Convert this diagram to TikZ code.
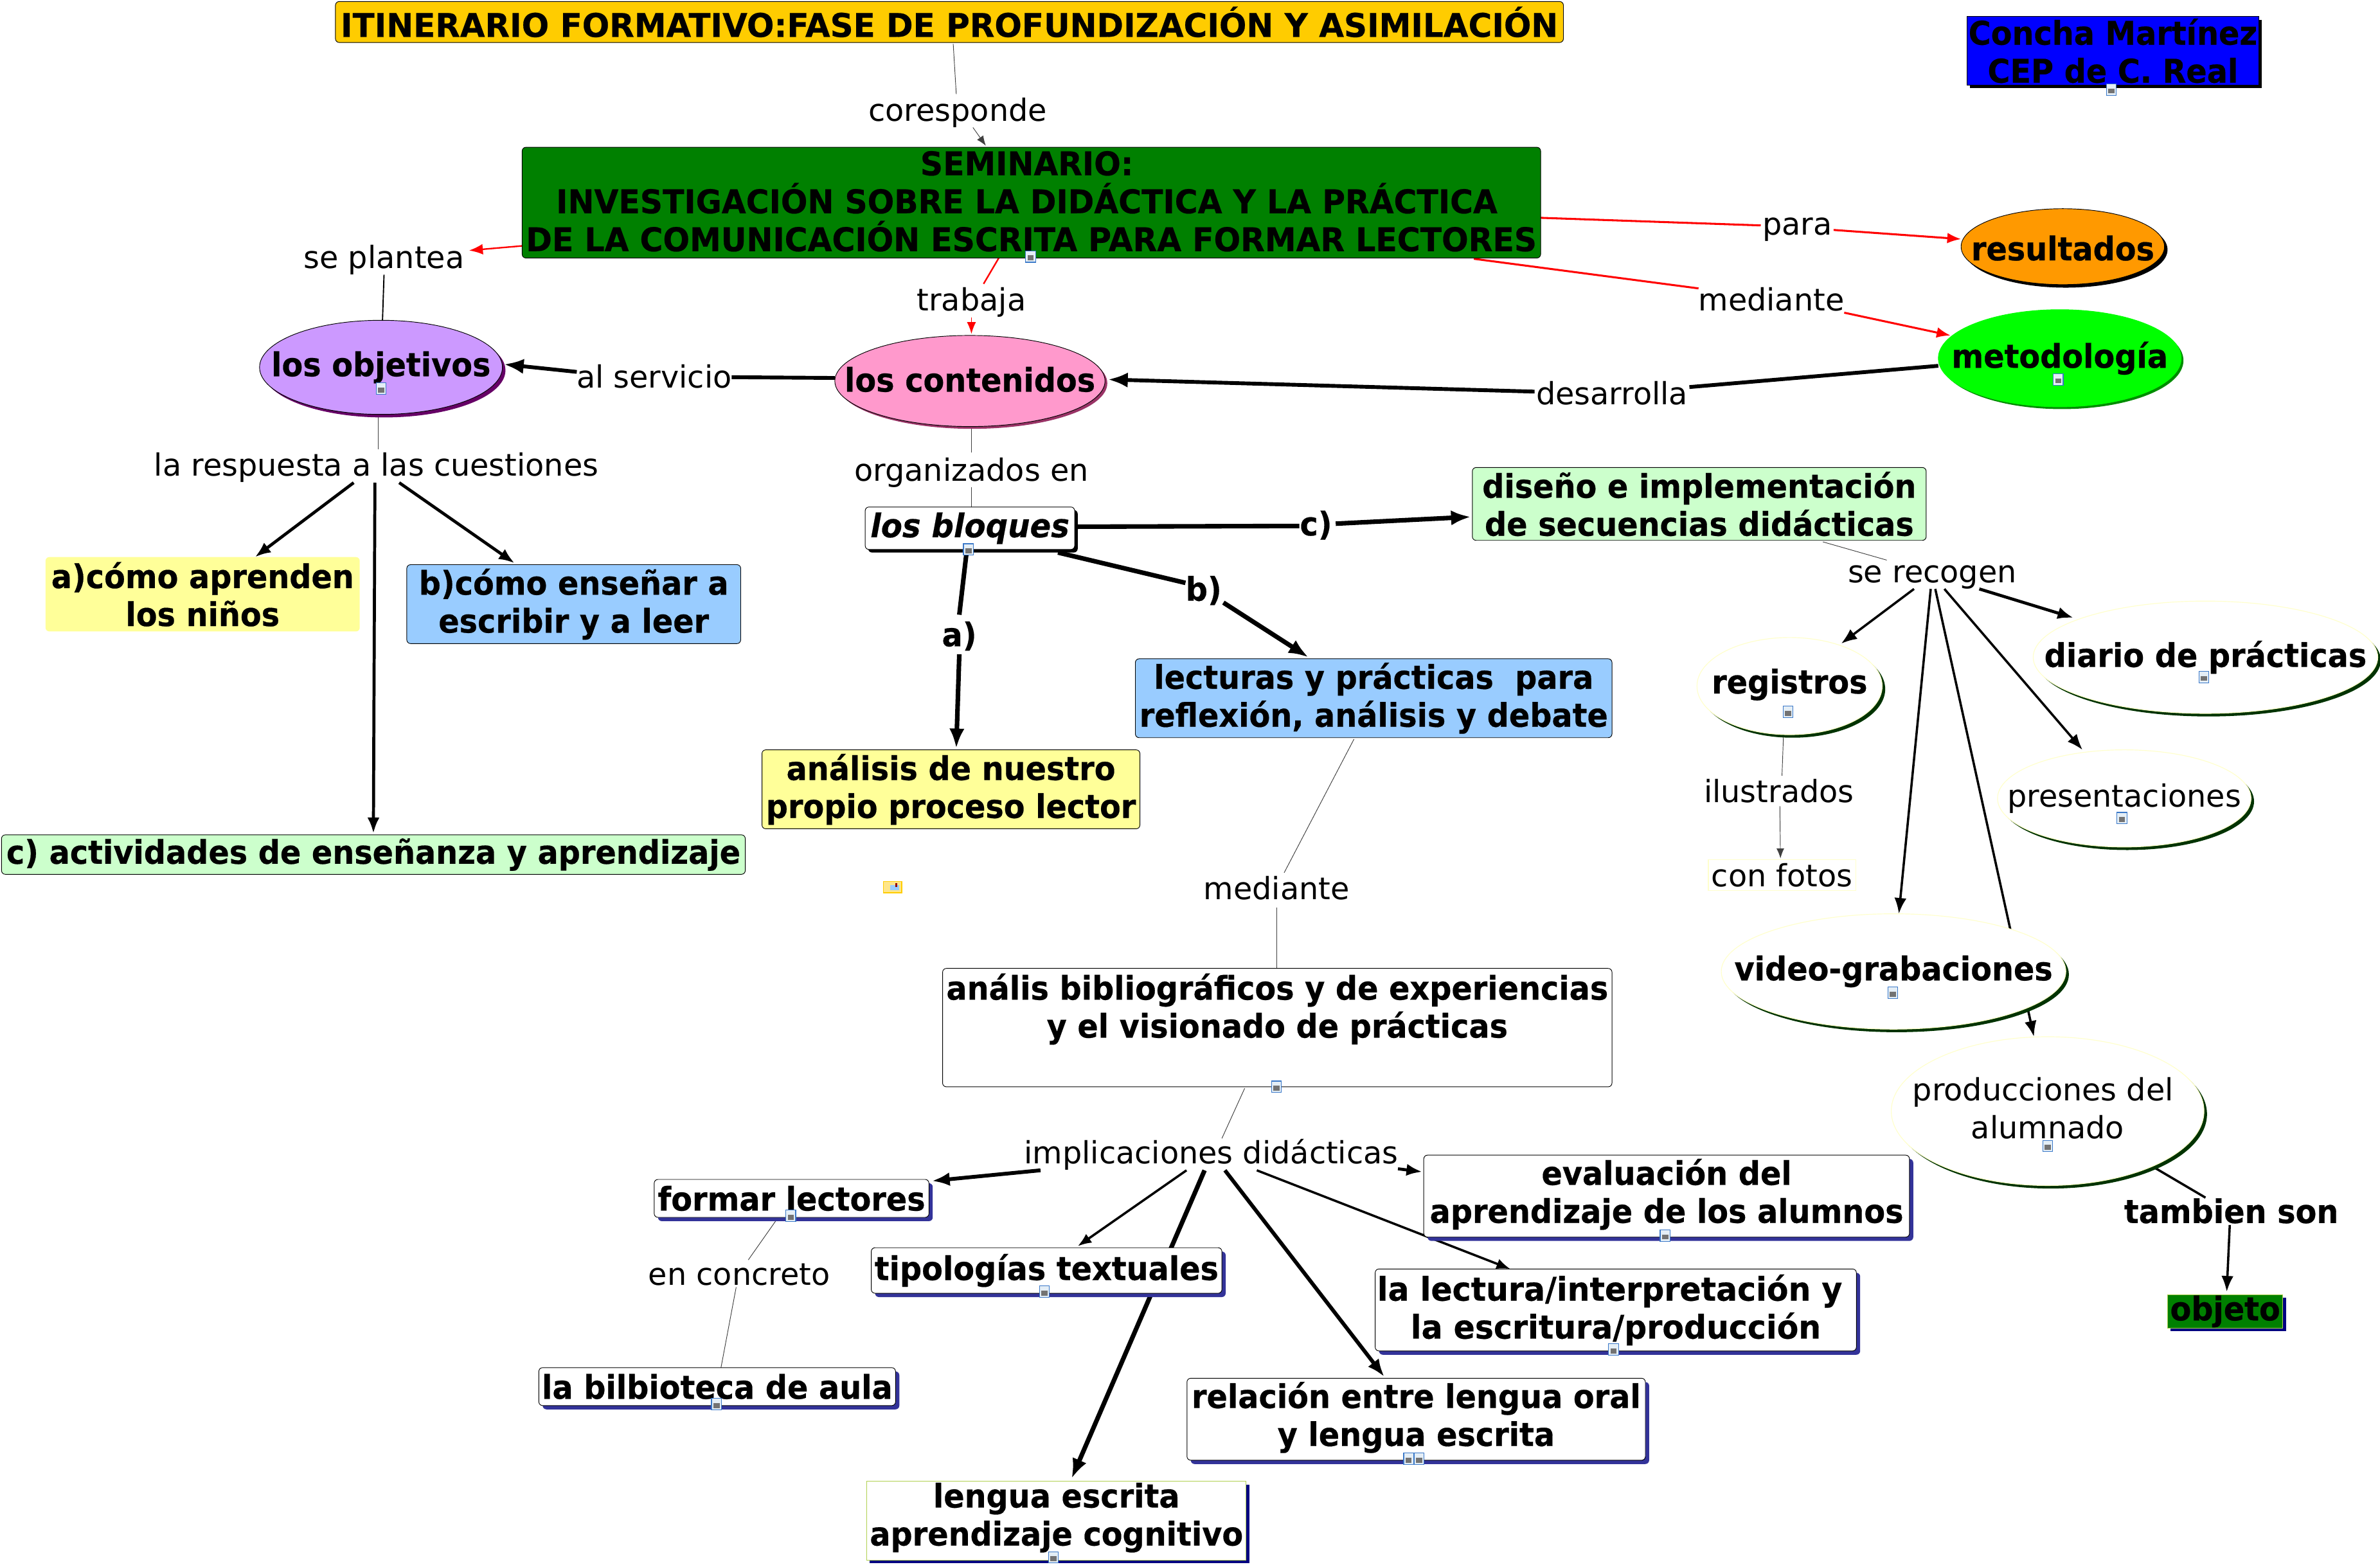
\documentclass[tikz,border=0pt]{standalone}
\usepackage{fontspec}
\setmainfont{DejaVu Sans}[BoldFeatures={FakeStretch=0.94,FakeBold=0.4},BoldItalicFeatures={FakeStretch=0.95,FakeBold=0.4}]
\newfontfamily\capsA{DejaVu Sans}[BoldFeatures={FakeStretch=0.985,FakeBold=0.4}]
\newfontfamily\capsB{DejaVu Sans}[BoldFeatures={FakeStretch=0.964,FakeBold=0.4}]
\usetikzlibrary{shapes.geometric,arrows.meta,shadows}
\definecolor{cTitle}{HTML}{FFCC00}
\definecolor{cSem}{HTML}{008000}
\definecolor{cBlue}{HTML}{0000FF}
\definecolor{cOrange}{HTML}{FF9900}
\definecolor{cLime}{HTML}{00FF00}
\definecolor{cLila}{HTML}{CC99FF}
\definecolor{cLilaD}{HTML}{660066}
\definecolor{cPink}{HTML}{FF99CC}
\definecolor{cPinkD}{HTML}{993366}
\definecolor{cMint}{HTML}{CCFFCC}
\definecolor{cYel}{HTML}{FFFF99}
\definecolor{cSky}{HTML}{99CCFF}
\definecolor{cPale}{HTML}{FFFFCC}
\definecolor{cDkGreen}{HTML}{003300}
\definecolor{cNavy}{HTML}{333399}
\definecolor{cDeep}{HTML}{000080}
\definecolor{cIcon}{HTML}{3A78C8}
\definecolor{cIconFill}{HTML}{E4EEF6}
\definecolor{cOlive}{HTML}{B0D050}
\definecolor{cNote}{HTML}{FFE68A}
\tikzset{
  bold/.style={font=\fontsize{21.5}{25}\selectfont\bfseries},
  box/.style={rectangle,rounded corners=2.5pt,draw=black,line width=.4pt,inner sep=0pt,align=center,bold},
  shad/.style={copy shadow={shadow xshift=#1,shadow yshift=-#1,fill=black,draw=none}},
  navy/.style={copy shadow={shadow xshift=2.5pt,shadow yshift=-2.5pt,fill=cNavy,draw=none}},
  oval/.style={ellipse,draw=black,line width=.4pt,inner sep=0pt},
  whiteoval/.style={ellipse,fill=white,draw=cPale,line width=.5pt,inner sep=0pt,
    copy shadow={shadow xshift=2pt,shadow yshift=-2pt,fill=cDkGreen,draw=none}},
  phrasefont/.style={font=\fontsize{20.2}{25}\selectfont},
  phrase/.style={inner sep=0pt,align=center,phrasefont,text height=15.5pt,text depth=0pt},
  bphrase/.style={inner sep=0pt,align=center,bold,text height=15.5pt,text depth=0pt},
  thinl/.style={line width=.4pt,black!75},
  tip/.style={-{Latex[length=#1*1.3pt,width=#1pt]}},
  iconbox/.style={rectangle,inner sep=0pt,minimum width=6.5pt,minimum height=7.5pt,draw=cIcon,fill=cIconFill,line width=.5pt,
    path picture={\fill[black!55] ([shift={(1.2pt,1.2pt)}]path picture bounding box.south west) rectangle ([shift={(-1.2pt,-3pt)}]path picture bounding box.north east);}},
  notebox/.style={rectangle,inner sep=0pt,minimum width=12pt,minimum height=7.5pt,draw=cTitle,fill=cNote,line width=.8pt,
    path picture={\fill[cSky] ([shift={(4.5pt,1.8pt)}]path picture bounding box.south west) rectangle ([shift={(-1.5pt,-2.2pt)}]path picture bounding box.north east);
      \fill[red!60!black] ([shift={(-4pt,-1pt)}]path picture bounding box.north east) rectangle ([shift={(-2.8pt,-3.4pt)}]path picture bounding box.north east);}}
}
\begin{document}
\begin{tikzpicture}[x=1pt,y=-1pt]
\useasboundingbox (0,0) rectangle (1568,1032);
% --- phrases
\node[phrase] (pcor) at (631,72) {coresponde};
\node[phrase] (ppl) at (253,169) {se plantea};
\node[phrase] (ptr) at (640,197) {trabaja};
\node[phrase] (pse) at (431,248) {al servicio};
\node[phrase] (pde) at (1062,259) {desarrolla};
\node[phrase] (ppa) at (1184,147) {para};
\node[phrase] (pme) at (1167,197) {mediante};
\node[phrase] (pres) at (248,306) {la respuesta a las cuestiones};
\node[phrase] (por) at (640,309) {organizados en};
\node[bphrase] (pcc) at (867,345) {c)};
\node[bphrase] (pbb) at (793,388) {b)};
\node[bphrase] (paa) at (632,418) {a)};
\node[phrase] (prc) at (1273,376) {se recogen};
\node[phrase] (pil) at (1172,521) {ilustrados};
\node[bphrase] (ptb) at (1470,798) {tambien son};
\node[phrase] (pmd) at (841,585) {mediante};
\node[phrase] (pim) at (798,759) {implicaciones didácticas};
\node[phrase] (pec) at (487,839) {en concreto};
% --- positions of the concepts, so that connectors can be laid under them
\path
 (625.5,14.5) coordinate (tit0)
 (679.5,133.5) coordinate (sem0)
 (1359,162.5) coordinate (res0)
 (1357,236) coordinate (met0)
 (251,242) coordinate (obj0)
 (639,251) coordinate (con0)
 (639,348) coordinate (blo0)
 (1119.5,332) coordinate (dis0)
 (133.5,391.5) coordinate (ca0)
 (378,398) coordinate (cb0)
 (246,563) coordinate (cc0)
 (626.5,520) coordinate (ana0)
 (905,460) coordinate (lec0)
 (841.5,677) coordinate (bib0)
 (1179,452) coordinate (reg0)
 (1453,433) coordinate (dia0)
 (1399.5,526) coordinate (pre0)
 (1247.5,640) coordinate (vid0)
 (1349,732) coordinate (pro0)
 (1174,576.5) coordinate (fot0)
 (1466,864) coordinate (obt0)
 (521.5,789.5) coordinate (fl0)
 (689.5,837) coordinate (tip0)
 (472.5,913.5) coordinate (bil0)
 (696,1002) coordinate (len0)
 (933,935) coordinate (rel0)
 (1064.5,863) coordinate (lei0)
 (1098,788) coordinate (eva0);
% --- connectors
\draw[thinl] ([shift={(2.5,14.5)}]tit0) -- ([shift={(-1,-10)}]pcor.center);
\draw[thinl,tip=5] ([shift={(10,12)}]pcor.center) -- ([shift={(-30,-37.5)}]sem0);
\draw[red,line width=1pt,tip=7] ([shift={(-335.5,28.5)}]sem0) -- ([shift={(56,-4)}]ppl.center);
\draw[black,line width=.8pt] ([shift={(0,12)}]ppl.center) -- ([shift={(1,-31)}]obj0);
\draw[red,line width=1pt] ([shift={(-21.5,36.5)}]sem0) -- ([shift={(8,-10)}]ptr.center);
\draw[red,line width=.8pt,tip=6] ([shift={(0,12)}]ptr.center) -- ([shift={(1,-31)}]con0);
\draw[line width=2.5pt] ([shift={(-89,-2)}]con0) -- ([shift={(51,.5)}]pse.center);
\draw[line width=2.5pt,tip=10] ([shift={(-51,-3)}]pse.center) -- ([shift={(81,-2)}]obj0);
\draw[line width=2.5pt] ([shift={(-80,5)}]met0) -- ([shift={(51,-4)}]pde.center);
\draw[line width=2.5pt,tip=10] ([shift={(-51,-1)}]pde.center) -- ([shift={(91,-1)}]con0);
\draw[red,line width=1.3pt] ([shift={(335.5,10)}]sem0) -- ([shift={(-24,1.5)}]ppa.center);
\draw[red,line width=1.3pt,tip=7] ([shift={(24,4.5)}]ppa.center) -- ([shift={(-67,-5)}]res0);
\draw[red,line width=1.3pt] ([shift={(291.5,37)}]sem0) -- ([shift={(-48,-7)}]pme.center);
\draw[red,line width=1.3pt,tip=7] ([shift={(48,9)}]pme.center) -- ([shift={(-72,-15)}]met0);
\draw[thinl] ([shift={(-2,32)}]obj0) -- ([shift={(1,-10)}]pres.center);
\draw[line width=2pt,tip=8] ([shift={(-15,12)}]pres.center) -- ([shift={(34.5,-24.5)}]ca0);
\draw[line width=2pt,tip=8] ([shift={(-1,12)}]pres.center) -- ([shift={(0,-14)}]cc0);
\draw[line width=2pt,tip=8] ([shift={(15,12)}]pres.center) -- ([shift={(-39,-27)}]cb0);
\draw[thinl] ([shift={(1,30)}]con0) -- ([shift={(0,-11)}]por.center);
\draw[thinl] ([shift={(0,12)}]por.center) -- ([shift={(1,-14)}]blo0);
\draw[line width=3pt] ([shift={(69,-1)}]blo0) -- ([shift={(-11,1.5)}]pcc.center);
\draw[line width=3pt,tip=10] ([shift={(13,0)}]pcc.center) -- ([shift={(-150.5,8.5)}]dis0);
\draw[line width=3pt] ([shift={(58,16)}]blo0) -- ([shift={(-12,-4)}]pbb.center);
\draw[line width=3pt,tip=10] ([shift={(13,9)}]pbb.center) -- ([shift={(-43,-27)}]lec0);
\draw[line width=3pt] ([shift={(-2,14)}]blo0) -- ([shift={(0,-13)}]paa.center);
\draw[line width=3pt,tip=10] ([shift={(0,13)}]paa.center) -- ([shift={(3.5,-27)}]ana0);
\draw[thinl] ([shift={(-13,27)}]lec0) -- ([shift={(5,-10)}]pmd.center);
\draw[thinl] ([shift={(0,13)}]pmd.center) -- ([shift={(-.5,-39)}]bib0);
\draw[thinl] ([shift={(-21.5,40)}]bib0) -- ([shift={(7,-9)}]pim.center);
\draw[line width=2.5pt,tip=9] ([shift={(-112.5,12)}]pim.center) -- ([shift={(92.5,-11.5)}]fl0);
\draw[line width=1.5pt,tip=7] ([shift={(-16.3,12)}]pim.center) -- ([shift={(20.5,-16)}]tip0);
\draw[line width=3pt,tip=10] ([shift={(-4.4,12)}]pim.center) -- ([shift={(10,-28)}]len0);
\draw[line width=2.5pt,tip=9] ([shift={(9,12)}]pim.center) -- ([shift={(-21,-28)}]rel0);
\draw[line width=1.5pt,tip=7] ([shift={(30,12)}]pim.center) -- ([shift={(-69.5,-27)}]lei0);
\draw[line width=2pt,tip=8] ([shift={(123,11)}]pim.center) -- ([shift={(-161,-16)}]eva0);
\draw[thinl] ([shift={(-9.5,13.5)}]fl0) -- ([shift={(6,-9)}]pec.center);
\draw[thinl] ([shift={(-2,9)}]pec.center) -- ([shift={(2.5,-12.5)}]bil0);
\draw[thinl] ([shift={(81.5,25)}]dis0) -- ([shift={(-30,-7)}]prc.center);
\draw[line width=1.5pt,tip=8] ([shift={(-12,12)}]prc.center) -- ([shift={(34,-28)}]reg0);
\draw[line width=1.5pt,tip=8] ([shift={(-1,12)}]prc.center) -- ([shift={(3.5,-38)}]vid0);
\draw[line width=1.5pt,tip=8] ([shift={(2,12)}]prc.center) -- ([shift={(-9,-49)}]pro0);
\draw[line width=1.5pt,tip=8] ([shift={(8,12)}]prc.center) -- ([shift={(-27.5,-32)}]pre0);
\draw[line width=2pt,tip=8] ([shift={(31,12)}]prc.center) -- ([shift={(-87,-26)}]dia0);
\draw[thinl] ([shift={(-4,32)}]reg0) -- ([shift={(2,-10)}]pil.center);
\draw[thinl,tip=5] ([shift={(.6,10)}]pil.center) -- ([shift={(-1,-11)}]fot0);
\draw[line width=1.5pt] ([shift={(70,37)}]pro0) -- ([shift={(-17,-9)}]ptb.center);
\draw[line width=1.5pt,tip=8] ([shift={(-1,9)}]ptb.center) -- ([shift={(1,-13)}]obt0);
% --- concept nodes
\node[box,fill=cTitle,minimum width=809pt,minimum height=27pt,font=\fontsize{21.5}{25}\selectfont\capsA\bfseries] (tit) at (tit0) {ITINERARIO FORMATIVO:FASE DE PROFUNDIZACIÓN Y ASIMILACIÓN};
\node[rectangle,fill=cBlue,draw=black,line width=.4pt,inner sep=0pt,align=center,bold,shad=2pt,minimum width=192pt,minimum height=45pt] (aut) at (1392,33.5) {Concha Martínez\\CEP de C. Real};
\node[box,fill=cSem,minimum width=671pt,minimum height=73pt,font=\fontsize{21.5}{25}\selectfont\capsB\bfseries] (sem) at (sem0) {\hspace{-6pt}SEMINARIO:\\\hspace{-6pt}INVESTIGACIÓN SOBRE LA DIDÁCTICA Y LA PRÁCTICA\\DE LA COMUNICACIÓN ESCRITA PARA FORMAR LECTORES\\[-23pt]\mbox{}};
\node[oval,fill=cOrange,shad=2pt,minimum width=134pt,minimum height=50pt,label={[bold,name=rest,yshift=-1pt]center:resultados}] (res) at (res0) {};
\node[oval,fill=cLime,draw=cLime,copy shadow={shadow xshift=1.5pt,shadow yshift=-1.5pt,fill=green!55!black,draw=none},minimum width=160pt,minimum height=64pt,label={[bold,name=mett]center:metodología}] (met) at (met0) {};
\node[oval,fill=cLila,copy shadow={shadow xshift=2pt,shadow yshift=-2pt,fill=cLilaD,draw=none},minimum width=160pt,minimum height=62pt,label={[bold,name=objt]center:los objetivos}] (obj) at (obj0) {};
\node[oval,fill=cPink,copy shadow={shadow xshift=1.5pt,shadow yshift=-1.5pt,fill=cPinkD,draw=none},minimum width=178pt,minimum height=60pt,label={[bold,name=cont,yshift=1pt]center:los contenidos}] (con) at (con0) {};
\node[box,fill=white,shad=2pt,minimum width=138pt,minimum height=28pt,font=\fontsize{21.5}{25}\selectfont\bfseries\itshape] (blo) at (blo0) {los bloques};
\node[box,fill=cMint,minimum width=299pt,minimum height=48pt] (dis) at (dis0) {diseño e implementación\\de secuencias didácticas};
\node[box,fill=cYel,draw=none,minimum width=207pt,minimum height=49pt] (ca) at (ca0) {a)cómo aprenden\\los niños};
\node[box,fill=cSky,minimum width=220pt,minimum height=52pt] (cb) at (cb0) {b)cómo enseñar a\\escribir y a leer};
\node[box,fill=cMint,minimum width=490pt,minimum height=26pt] (cc) at (cc0) {c) actividades de enseñanza y aprendizaje};
\node[box,fill=cYel,minimum width=249pt,minimum height=52pt] (ana) at (ana0) {análisis de nuestro\\propio proceso lector};
\node[box,fill=cSky,minimum width=314pt,minimum height=52pt] (lec) at (lec0) {lecturas y prácticas\ \ para\\reflexión, análisis y debate};
\node[box,fill=white,minimum width=441pt,minimum height=78pt] (bib) at (bib0) {anális bibliográficos y de experiencias\\y el visionado de prácticas\\[4pt] \mbox{}};
\node[whiteoval,minimum width=122pt,minimum height=64pt,label={[bold,name=regt,yshift=1pt]center:registros}] (reg) at (reg0) {};
\node[whiteoval,minimum width=227pt,minimum height=74pt,label={[bold,name=diat]center:diario de prácticas}] (dia) at (dia0) {};
\node[whiteoval,minimum width=167pt,minimum height=64pt,label={[phrasefont,name=pret]center:presentaciones}] (pre) at (pre0) {};
\node[whiteoval,minimum width=227pt,minimum height=76pt,label={[bold,name=vidt]center:video-grabaciones}] (vid) at (vid0) {};
\node[whiteoval,minimum width=206pt,minimum height=98pt,label={[phrasefont,align=center,name=prot,yshift=2pt]center:\hspace{-6pt}producciones del\\alumnado}] (pro) at (pro0) {};
\node[rectangle,draw=cPale,line width=.5pt,fill=white,phrase,minimum width=97pt,minimum height=20pt] (fot) at (fot0) {con fotos};
\node[rectangle,fill=cSem,draw=cOlive,line width=.4pt,inner sep=0pt,align=center,bold,copy shadow={shadow xshift=2pt,shadow yshift=-2pt,fill=cDeep,draw=none},minimum width=76pt,minimum height=22pt] (obt) at (obt0) {objeto};
\node[box,fill=white,navy,minimum width=181pt,minimum height=25pt] (fl) at (fl0) {formar lectores};
\node[box,fill=white,navy,minimum width=231pt,minimum height=30pt] (tip) at (tip0) {tipologías textuales};
\node[box,fill=white,navy,minimum width=235pt,minimum height=25pt] (bil) at (bil0) {la bilbioteca de aula};
\node[rectangle,fill=white,draw=cOlive,line width=.4pt,inner sep=0pt,align=center,bold,copy shadow={shadow xshift=2pt,shadow yshift=-2pt,fill=cDeep,draw=none},minimum width=250pt,minimum height=52pt] (len) at (len0) {lengua escrita\\aprendizaje cognitivo\\[-16pt]\mbox{}};
\node[box,fill=white,navy,minimum width=302pt,minimum height=54pt] (rel) at (rel0) {relación entre lengua oral\\y lengua escrita\\[-18pt]\mbox{}};
\node[box,fill=white,navy,minimum width=317pt,minimum height=54pt,font=\fontsize{21.5}{25}\selectfont\capsB\bfseries] (lei) at (lei0) {\hspace{-8pt}la lectura/interpretación y\\la escritura/producción};
\node[box,fill=white,navy,minimum width=320pt,minimum height=54pt] (eva) at (eva0) {evaluación del\\aprendizaje de los alumnos\\[-18pt]\mbox{}};
% --- resource icons
\foreach \n/\x/\y in {a/679/169,b/1391/59,c/251/256,d/1356/250,e/638/362,f/1178/469,g/1452/446,h/1398/539,i/1247/654,j/1349/755,k/841/716,l/521/801,m/688/851,o/472/925,p/1097/814,q/1063/889,r/928/961,s/935/961,t/694/1026}
  \node[iconbox,name=icon\n] at (\x,\y) {};
\node[notebox] (note) at (588,584.5) {};
\end{tikzpicture}
\end{document}
